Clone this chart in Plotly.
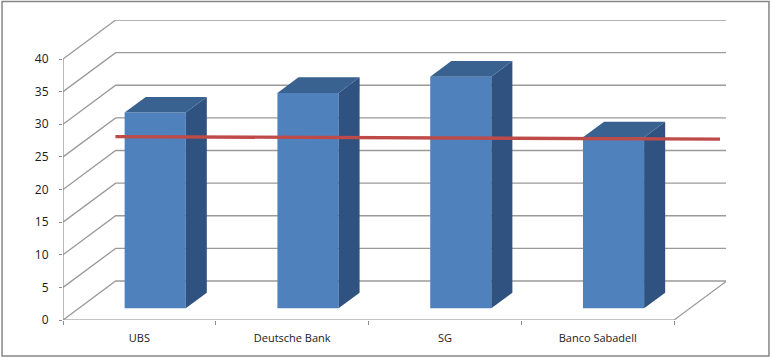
import plotly.graph_objects as go

categories = ["UBS", "Deutsche Bank", "SG", "Banco Sabadell"]
bar_values = [30, 33, 35.5, 26.2]
line_x = [-0.157, 0.84, 1.84, 2.84, 3.80]
line_values = [28.1, 28.0, 27.88, 27.8, 27.72]
y_ticks = [0, 5, 10, 15, 20, 25, 30, 35, 40]

W, H = 771, 358
L, R, T, B = 62.5, 45, 20, 38
PX_X = 152.9
PX_Y = 6.525
X0 = -0.5
X1 = X0 + (W - L - R) / PX_X
Y1 = (H - T - B) / PX_Y
DX = 52.7 / PX_X      # depth of the 3D box in x units
DY = 39 / PX_Y        # depth of the 3D box in y units
NEAR, FAR = 0.3, 0.7  # where the columns sit in the depth
BW = 0.4

GRID = "#9A9A9A"
AXIS = "#8A8A8A"
FRONT = "#4F81BD"
TOP = "#3A6291"
SIDE = "#2F5280"
RED = "#BE4B48"

fig = go.Figure()

# column fronts
fig.add_trace(go.Bar(
    x=[i + NEAR * DX for i in range(len(categories))],
    y=bar_values,
    base=[NEAR * DY] * len(categories),
    width=BW,
    marker=dict(color=FRONT, line=dict(width=0)),
    hoverinfo="skip",
))

# column sides and tops
for i, v in enumerate(bar_values):
    xl = i + NEAR * DX - BW / 2
    xr = i + NEAR * DX + BW / 2
    d = FAR - NEAR
    yb = NEAR * DY
    yt = yb + v
    fig.add_trace(go.Scatter(
        x=[xr, xr + d * DX, xr + d * DX, xr, xr],
        y=[yb, yb + d * DY, yt + d * DY, yt, yb],
        fill="toself", fillcolor=SIDE, mode="none", hoverinfo="skip",
    ))
    fig.add_trace(go.Scatter(
        x=[xl, xr, xr + d * DX, xl + d * DX, xl],
        y=[yt, yt, yt + d * DY, yt + d * DY, yt],
        fill="toself", fillcolor=TOP, mode="none", hoverinfo="skip",
    ))

# red series
fig.add_trace(go.Scatter(
    x=line_x, y=line_values, mode="lines",
    line=dict(color=RED, width=3.3), hoverinfo="skip",
))

shapes = []
# wall gridlines: diagonal on the side wall, horizontal on the back wall
for t in y_ticks:
    path = f"M {X0} {t} L {X0 + DX} {t + DY} L {X0 + len(categories) + DX} {t + DY}"
    shapes.append(dict(type="path", path=path, xref="x", yref="y", layer="below",
                       line=dict(color=GRID, width=1.3)))
# floor right edge and front axis, value axis
shapes.append(dict(type="line", xref="x", yref="y", layer="below",
                   x0=X0 + len(categories), y0=0, x1=X0 + len(categories) + DX, y1=DY,
                   line=dict(color=GRID, width=1.2)))
shapes.append(dict(type="line", xref="x", yref="y", layer="below",
                   x0=X0, y0=0, x1=X0 + len(categories), y1=0,
                   line=dict(color=AXIS, width=1.2)))
shapes.append(dict(type="line", xref="x", yref="y", layer="below",
                   x0=X0, y0=0, x1=X0, y1=y_ticks[-1],
                   line=dict(color=AXIS, width=1.2)))
# chart frame
pw, ph = W - L - R, H - T - B
def px(v): return (v - L) / pw
def py(v): return (H - B - v) / ph
shapes.append(dict(type="rect", xref="paper", yref="paper", layer="below",
                   x0=px(1.5), x1=px(769), y0=py(1.5), y1=py(356),
                   line=dict(color="#868686", width=1.5), fillcolor="rgba(0,0,0,0)"))

fig.update_layout(
    width=W, height=H,
    margin=dict(l=L, r=R, t=T, b=B, pad=0, autoexpand=False),
    paper_bgcolor="white", plot_bgcolor="white",
    showlegend=False,
    shapes=shapes,
    font=dict(family="Open Sans", color="#1A1A1A", size=12),
    xaxis=dict(
        automargin=False,
        range=[X0, X1], showgrid=False, zeroline=False, showline=False,
        tickmode="array", tickvals=list(range(len(categories))), ticktext=categories,
        ticks="outside", ticklen=8, tickcolor="rgba(0,0,0,0)",
        tickfont=dict(size=11),
        minor=dict(tickmode="array",
                   tickvals=[X0 + i for i in range(len(categories) + 1)],
                   ticks="outside", ticklen=4, tickcolor=AXIS, tickwidth=1, showgrid=False),
    ),
    yaxis=dict(
        automargin=False,
        range=[0, Y1], showgrid=False, zeroline=False, showline=False,
        tickmode="array", tickvals=y_ticks,
        ticks="outside", ticklen=3, tickcolor=AXIS, tickwidth=1,
        ticklabelstandoff=8,
    ),
)

fig.write_html("out.html", config={"displayModeBar": False},
               post_script="document.body.style.margin='0';document.body.style.overflow='hidden';")
